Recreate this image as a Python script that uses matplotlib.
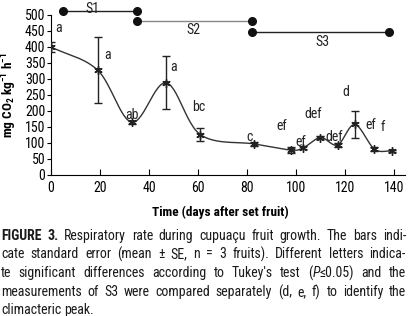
import numpy as np
import matplotlib
matplotlib.use("Agg")
import matplotlib.pyplot as plt
from matplotlib import font_manager

# ---- data ----
days = [0, 19, 33, 47, 61, 83, 98, 103, 110, 117, 124, 132, 139]
rate = [400, 328, 165, 288, 126, 97, 78, 85, 117, 94, 158, 81, 75]
se = [17, 104, 5, 83, 20, 5, 10, 5, 5, 5, 41, 5, 4]
letters = ["a", "a", "ab", "a", "bc", "c", "ef", "ef", "def", "def", "d", "ef", "f"]
letter_x = [3, 23, 33, 50, 60.5, 81, 94, 102, 107, 115.5, 120.5, 130.5, 135.5]
letter_y = [459, 375, 187, 338, 213, 120, 153, 104, 190, 118, 260, 156, 150]
stages = ["S1", "S2", "S3"]
stage_start = [5, 35, 82]
stage_end = [35, 82, 138]
stage_level = [512, 480, 446]
stage_label_x = [17, 58, 111]
stage_label_y = [519, 453, 416]
xticks = [0, 20, 40, 60, 80, 100, 120, 140]
yticks = list(range(0, 501, 50))
caption_lines = [
    ("FIGURE 3.", " Respiratory rate during cupuaçu fruit growth. The bars indi-"),
    ("", "cate standard error (mean ± SE, n = 3 fruits). Different letters indica-"),
    ("", "te significant differences according to Tukey's test (P≤0.05) and the"),
    ("", "measurements of S3 were compared separately (d, e, f) to identify the"),
    ("", "climacteric peak."),
]

avail = {f.name for f in font_manager.fontManager.ttflist}
FAM = [f for f in ["Liberation Sans Narrow", "Roboto Condensed", "Liberation Sans"] if f in avail] + ["DejaVu Sans"]
plt.rcParams["font.family"] = FAM
plt.rcParams["mathtext.fontset"] = "custom"
plt.rcParams["mathtext.rm"] = FAM[0] + ":bold"
plt.rcParams["mathtext.it"] = FAM[0] + ":italic"
plt.rcParams["mathtext.default"] = "rm"

fig = plt.figure(figsize=(4.09, 3.16), dpi=100)
ax = fig.add_axes([51 / 409, 1 - 175 / 316, (405 - 51) / 409, (175 - 15) / 316])


def catmull(xs, ys, n=30):
    xs = np.asarray(xs, float)
    ys = np.asarray(ys, float)
    P = np.column_stack([xs, ys])
    P = np.vstack([P[0] - (P[1] - P[0]), P, P[-1] + (P[-1] - P[-2])])
    out = []
    for i in range(1, len(P) - 2):
        p0, p1, p2, p3 = P[i - 1], P[i], P[i + 1], P[i + 2]
        t = np.linspace(0, 1, n)[:, None]
        pts = 0.5 * ((2 * p1) + (-p0 + p2) * t + (2 * p0 - 5 * p1 + 4 * p2 - p3) * t ** 2
                     + (-p0 + 3 * p1 - 3 * p2 + p3) * t ** 3)
        out.append(pts)
    out = np.vstack(out)
    return out[:, 0], out[:, 1]


sx, sy = catmull(days, rate)
ax.plot(sx, sy, color="#333333", lw=1.0, zorder=2)
ax.errorbar(days, rate, yerr=se, fmt="none", ecolor="#222222", elinewidth=1.0,
            capsize=3, capthick=1.0, zorder=3)
ax.plot(days, rate, ls="none", marker=(6, 2, 0), ms=6, mew=1.0, color="#222222", zorder=4)
ax.plot(days, rate, ls="none", marker="s", ms=3, mew=0.0, color="#222222", zorder=4)

for t, x, y in zip(letters, letter_x, letter_y):
    ax.text(x, y, t, ha="center", va="center", fontsize=10, color="#222222")

stage_colors = ["#222222", "#888888", "#222222"]
for s, x0, x1, yv, lx, ly, c in zip(stages, stage_start, stage_end, stage_level,
                                     stage_label_x, stage_label_y, stage_colors):
    ax.plot([x0, x1], [yv, yv], color=c, lw=1.0, clip_on=False, zorder=5)
    ax.plot([x0, x1], [yv, yv], ls="none", marker="o", ms=5.5, color="#111111",
            clip_on=False, zorder=6)
    ax.text(lx, ly, s, ha="center", va="center", fontsize=10, color="#222222", clip_on=False)

ax.set_xlim(0, 144.5)
ax.set_ylim(0, 500)
ax.set_xticks(xticks)
ax.set_yticks(yticks)
ax.tick_params(axis="x", direction="in", length=4, width=0.8, labelsize=10, pad=4)
ax.tick_params(axis="y", direction="out", length=3, width=0.8, labelsize=10, pad=1)
for sp in ["top", "right"]:
    ax.spines[sp].set_visible(False)
for sp in ["left", "bottom"]:
    ax.spines[sp].set_linewidth(0.8)
ax.set_xlabel("Time (days after set fruit)", fontsize=9.5, fontweight="bold")
ax.set_ylabel(r"mg CO$_2$ kg$^{-1}$ h$^{-1}$", fontsize=9.5, fontweight="bold")
ax.xaxis.set_label_coords((220 - 51) / 354, -(206 - 175) / 160)
ax.yaxis.set_label_coords(-(51 - 19) / 354, 0.5)

# caption with justified lines
renderer = fig.canvas.get_renderer()
left_px, right_px = 1, 406
line_y = [236, 254, 273, 292, 310]
fs = 10
for i, ((bold, rest), yp) in enumerate(zip(caption_lines, line_y)):
    yf = 1 - yp / 316
    tokens = []
    if bold:
        for w in bold.split(" "):
            tokens.append((w, "bold"))
    for w in rest.strip().split(" "):
        tokens.append((w, "normal"))
    justify = i < len(caption_lines) - 1
    widths = []
    artists = []
    for w, wt in tokens:
        if w.startswith("(P"):
            parts = [("(", "normal", "normal"), ("P", "normal", "italic"), (w[2:], "normal", "normal")]
        else:
            parts = [(w, wt, "normal")]
        sub = []
        tot = 0
        for txt, weight, style in parts:
            a = fig.text(0, yf, txt, fontsize=fs, fontweight=weight, fontstyle=style,
                         va="center", ha="left", color="#1a1a1a")
            bb = a.get_window_extent(renderer)
            sub.append((a, bb.width))
            tot += bb.width
        artists.append(sub)
        widths.append(tot)
    total = sum(widths)
    t1 = fig.text(0, 0, "a a", fontsize=fs)
    t2 = fig.text(0, 0, "a", fontsize=fs)
    space_w = t1.get_window_extent(renderer).width - 2 * t2.get_window_extent(renderer).width
    t1.remove()
    t2.remove()
    if justify and len(tokens) > 1:
        gap = (right_px - left_px - total) / (len(tokens) - 1)
    else:
        gap = space_w
    x = left_px
    for sub in artists:
        for a, w in sub:
            a.set_x(x / 409)
            x += w
        x += gap

fig.savefig("out.png", dpi=100)
